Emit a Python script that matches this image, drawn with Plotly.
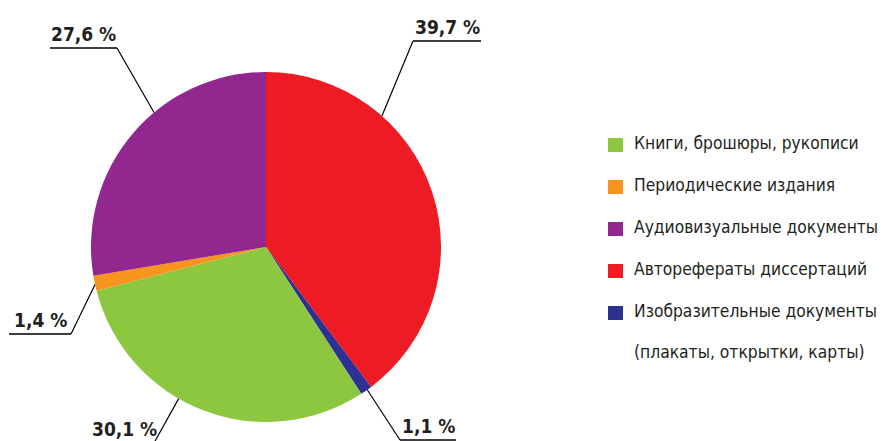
import math
import plotly.graph_objects as go

# --- Daten (Reihenfolge wie in der Legende) ---
categories = [
    "Книги, брошюры, рукописи",
    "Периодические издания",
    "Аудиовизуальные документы",
    "Авторефераты диссертаций",
    "Изобразительные документы<br>(плакаты, открытки, карты)",
]
values = [30.1, 1.4, 27.6, 39.7, 1.1]
colors = ["#8DC63F", "#F7941D", "#92278F", "#ED1C24", "#2E3192"]

# Reihenfolge im Kreis, im Uhrzeigersinn ab 12 Uhr
pie_order = [3, 4, 0, 1, 2]

W, H = 892, 441
OFF = 8  # Seitenrand des Browsers (body margin)
cx, cy, R = 266, 247, 175
FONT = "DejaVu Sans Condensed, Liberation Sans Narrow, sans-serif"
TXT = "#231F20"

# Beschriftung: Anteil innerhalb des Segments, Knickpunkt, Ende der Unterstreichung
label_style = {
    3: dict(frac=0.29, elbow=(413, 41), end=481),
    4: dict(frac=0.40, elbow=(400, 440), end=456),
    0: dict(frac=0.58, elbow=(154, 443), end=94),
    1: dict(frac=0.43, elbow=(71, 334), end=9),
    2: dict(frac=0.60, elbow=(117, 48), end=50),
}

fig = go.Figure()

# unsichtbare Achsen in Pixel-Koordinaten für Linien und Texte
fig.add_trace(go.Scatter(x=[OFF, W + OFF], y=[OFF, H + OFF], mode="markers",
                         marker=dict(opacity=0), hoverinfo="skip", showlegend=False))

pcx, pcy = cx - OFF, H - (cy - OFF)
fig.add_trace(go.Pie(
    labels=[categories[i] for i in pie_order],
    values=[values[i] for i in pie_order],
    marker=dict(colors=[colors[i] for i in pie_order], line=dict(width=0)),
    sort=False,
    direction="clockwise",
    rotation=0,
    textinfo="none",
    showlegend=False,
    domain=dict(x=[(pcx - R) / W, (pcx + R) / W], y=[(pcy - R) / H, (pcy + R) / H]),
))

total = sum(values)
cum = 0.0
shapes = []
annotations = []
for i in pie_order:
    st = label_style[i]
    ang = (cum + values[i] * st["frac"]) / total * 2 * math.pi
    cum += values[i]
    ax_, ay_ = cx + R * math.sin(ang), cy - R * math.cos(ang)
    ex, ey = st["elbow"]
    shapes.append(dict(type="line", xref="x", yref="y", x0=ax_, y0=ay_, x1=ex, y1=ey,
                       line=dict(color="black", width=1.2)))
    shapes.append(dict(type="line", xref="x", yref="y", x0=ex, y0=ey, x1=st["end"], y1=ey,
                       line=dict(color="black", width=1.5)))
    txt = f"{values[i]:.1f}".replace(".", ",") + " %"
    annotations.append(dict(x=(ex + st["end"]) / 2, y=ey - 1, xref="x", yref="y",
                            text=f"<b>{txt}</b>", showarrow=False, yanchor="bottom",
                            font=dict(family=FONT, size=19, color=TXT)))

# Legende
leg_y = [145, 187, 229, 271, 313]
for k, name in enumerate(categories):
    y = leg_y[k]
    shapes.append(dict(type="rect", xref="x", yref="y", x0=608, x1=623, y0=y - 7, y1=y + 7,
                       fillcolor=colors[k], line=dict(width=0)))
    lines = name.split("<br>")
    for j, ln in enumerate(lines):
        annotations.append(dict(x=632, y=y - 2 + j * 41, xref="x", yref="y", text=ln,
                                showarrow=False, xanchor="left", yanchor="middle",
                                font=dict(family=FONT, size=17.3, color=TXT)))

fig.update_layout(
    width=W, height=H,
    margin=dict(l=0, r=0, t=0, b=0),
    paper_bgcolor="white", plot_bgcolor="white",
    xaxis=dict(range=[OFF, W + OFF], visible=False, fixedrange=True),
    yaxis=dict(range=[H + OFF, OFF], visible=False, fixedrange=True),
    shapes=shapes,
    annotations=annotations,
    showlegend=False,
)

fig.write_html("out.html")
